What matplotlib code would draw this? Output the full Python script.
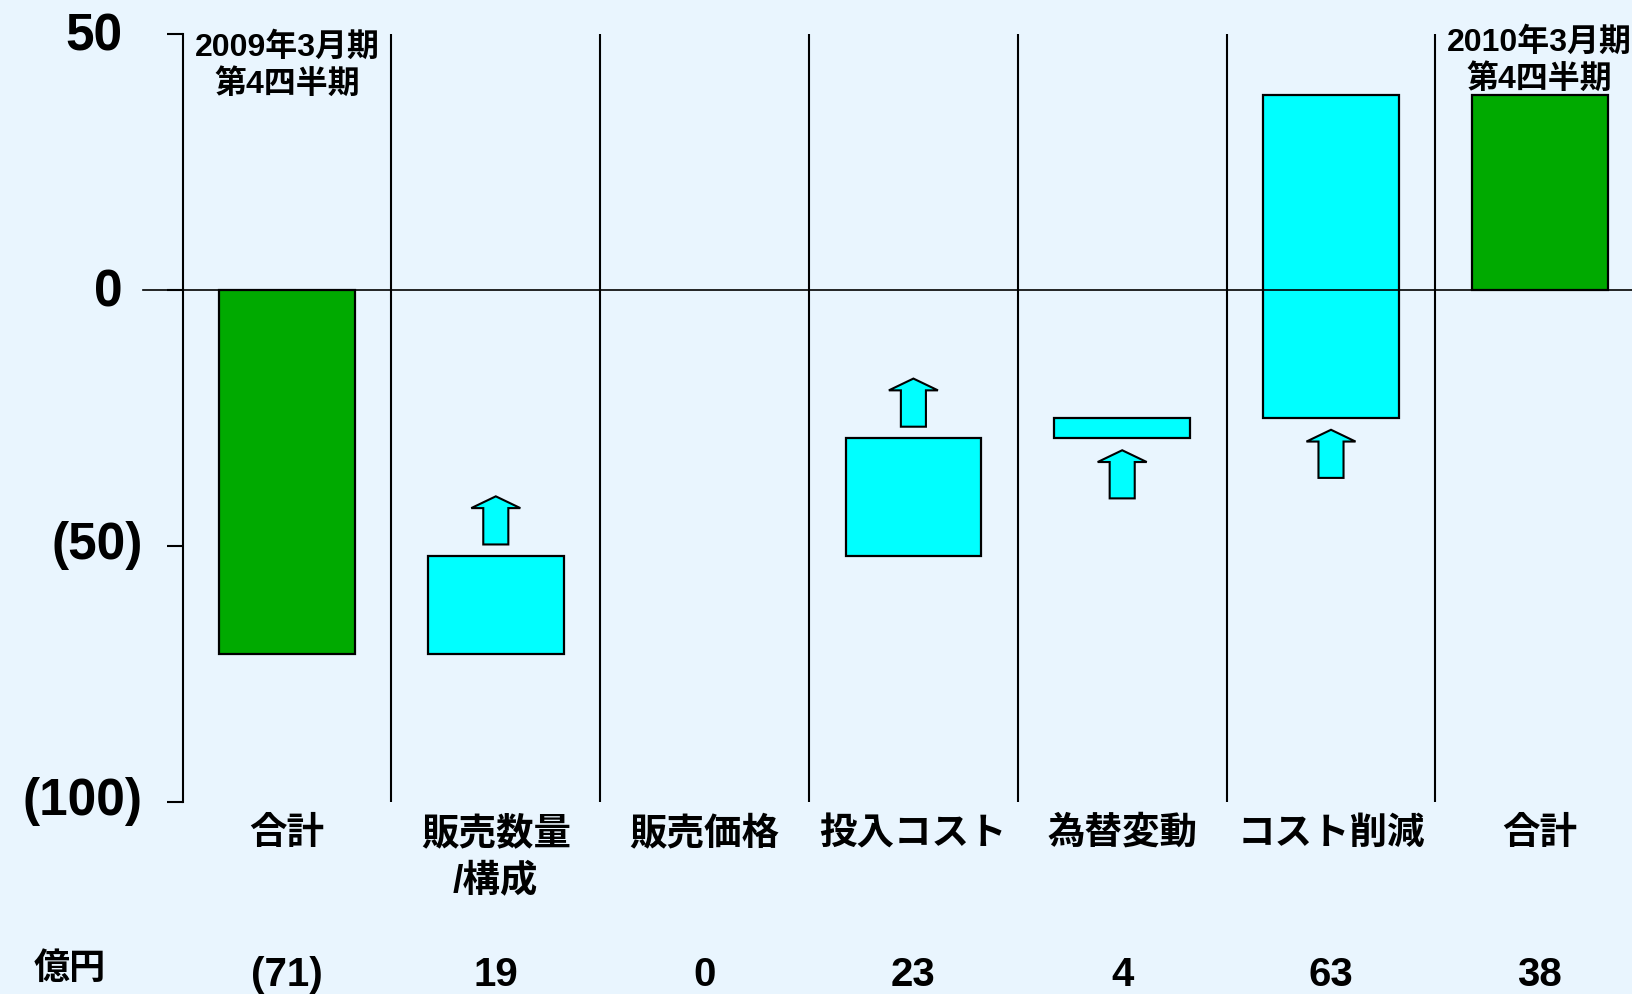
import matplotlib
matplotlib.use("Agg")
import matplotlib.pyplot as plt
from matplotlib import font_manager as fm

# ---------------- data ----------------
categories = ["合計", "販売数量\n/構成", "販売価格", "投入コスト", "為替変動", "コスト削減", "合計"]
values = [-71, 19, 0, 23, 4, 63, 38]
is_total = [True, False, False, False, False, False, True]
arrow_side = [None, "above", None, "above", "below", "below", None]
period_labels = {0: "2009年3月期\n第4四半期", 6: "2010年3月期\n第4四半期"}
unit_label = "億円"
y_ticks = [-100, -50, 0, 50]
y_tick_labels = ["(100)", "(50)", "0", "50"]

# ---------------- style ----------------
BG = "#E9F5FE"
GREEN = "#00AA00"
CYAN = "#00FFFF"
W, H, DPI = 1633, 994, 100

names = {f.name for f in fm.fontManager.ttflist}
narrow = "Liberation Sans Narrow" if "Liberation Sans Narrow" in names else "Liberation Sans"
LAT_CJK = ["Liberation Sans", "Noto Sans CJK JP", "DejaVu Sans"]
NARROW_CJK = [narrow, "Noto Sans CJK JP", "DejaVu Sans"]

fig = plt.figure(figsize=(W / DPI, H / DPI), dpi=DPI, facecolor=BG)
ax_left, ax_right, ax_top, ax_bot = 182.6, W, 34, 802
cat_w = 208.8
ax = fig.add_axes([ax_left / W, (H - ax_bot) / H, (ax_right - ax_left) / W, (ax_bot - ax_top) / H])
ax.set_facecolor(BG)
ax.set_ylim(-100, 50)
ax.set_xlim(-0.5, -0.5 + (ax_right - ax_left) / cat_w)

# waterfall geometry from the values
bottoms, tops = [], []
running = 0
for v, tot in zip(values, is_total):
    if tot:
        lo, hi = min(0, v), max(0, v)
        running = v
    else:
        lo, hi = min(running, running + v), max(running, running + v)
        running += v
    bottoms.append(lo)
    tops.append(hi)

bar_w = 0.65
for i, (lo, hi, tot) in enumerate(zip(bottoms, tops, is_total)):
    if hi - lo == 0:
        continue
    ax.bar(i, hi - lo, bottom=lo, width=bar_w, color=GREEN if tot else CYAN,
           edgecolor="black", linewidth=1.6, zorder=2)

# up arrows
gap, length, head_len = 2.3, 9.4, 2.3
head_w, shaft_w = 0.235, 0.12
for i, side in enumerate(arrow_side):
    if side is None:
        continue
    if side == "above":
        base = tops[i] + gap
        tip = base + length
    else:
        tip = bottoms[i] - gap
        base = tip - length
    hb = tip - head_len
    xs = [i - shaft_w / 2, i - shaft_w / 2, i - head_w / 2, i, i + head_w / 2, i + shaft_w / 2, i + shaft_w / 2]
    ys = [base, hb, hb, tip, hb, hb, base]
    ax.fill(xs, ys, facecolor=CYAN, edgecolor="black", linewidth=1.5, zorder=3)

# separators
ax.vlines([k + 0.5 for k in range(len(categories) - 1)], -100, 50, colors="black", linewidth=1.5, zorder=1)

# zero line (extends left of the axis)
ax.plot([(143 - ax_left) / (ax_right - ax_left), 1.0], [0, 0], color="black", linewidth=1.2,
        transform=ax.get_yaxis_transform(), clip_on=False, zorder=4)

# axes styling
for s in ["top", "right", "bottom"]:
    ax.spines[s].set_visible(False)
ax.spines["left"].set_linewidth(1.5)
ax.set_xticks([])
ax.set_yticks(y_ticks)
ax.tick_params(axis="y", direction="out", length=11.5, width=1.5, labelleft=False)

# y tick labels (positive labels leave room for a closing parenthesis)
for v, lab in zip(y_ticks, y_tick_labels):
    paren = lab.startswith("(")
    dx = 40 if paren else 60
    dy = 0 if paren else -3
    ax.annotate(lab, xy=(0, v), xycoords=("axes fraction", "data"), xytext=(-dx, dy),
                textcoords="offset pixels", ha="right", va="center",
                fontsize=37, fontweight="bold", family=["Liberation Sans", "DejaVu Sans"])

def ax_y(px):
    return (ax_bot - px) / (ax_bot - ax_top)

trans = ax.get_xaxis_transform()
# category labels
for i, lab in enumerate(categories):
    lines = lab.split("\n")
    for k, line in enumerate(lines):
        ax.text(i, ax_y(834 + 47 * k), line, transform=trans, ha="center", va="center",
                fontsize=27, fontweight="bold", family=LAT_CJK)

# value row
def fmt(v):
    return f"({abs(v)})" if v < 0 else f"{v}"

for i, v in enumerate(values):
    ax.text(i, ax_y(975), fmt(v), transform=trans, ha="center", va="center",
            fontsize=29, fontweight="bold", family=NARROW_CJK)
ax.text(-0.5 + (70 - ax_left) / cat_w, ax_y(969), unit_label, transform=trans, ha="center",
        va="center", fontsize=26, fontweight="bold", family=NARROW_CJK)

# period labels
for i, lab in period_labels.items():
    ax.text(i, ax_y(66 if i == 0 else 61), lab, transform=trans, ha="center", va="center",
            fontsize=23, fontweight="bold", family=LAT_CJK, linespacing=1.25)

fig.savefig("out.png", dpi=DPI, facecolor=BG)
